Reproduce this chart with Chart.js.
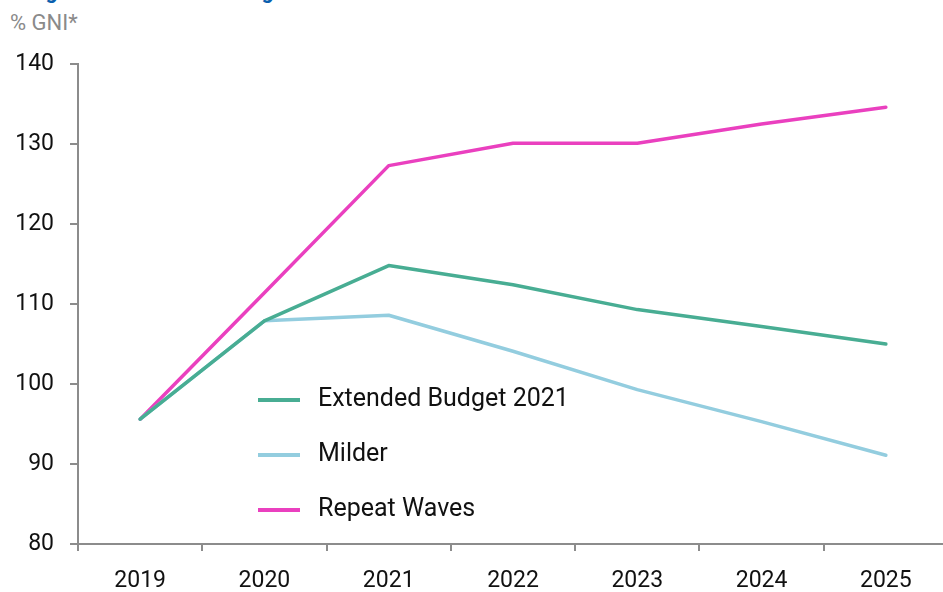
<!DOCTYPE html>
<html>
<head>
<meta charset="utf-8">
<script src="https://cdn.jsdelivr.net/npm/chart.js@4"></script>
<style>
  html, body { margin: 0; padding: 0; overflow: hidden; background: #fff; }
  #title { position: absolute; left: 28px; top: -22px; font: bold 21.5px Roboto, sans-serif; color: #0b5fae; white-space: nowrap; }
  #unit { position: absolute; left: 10px; top: 10px; font: 22px Roboto, sans-serif; color: #8a8a8a; }
  #wrap { position: absolute; left: 0; top: 0; width: 960px; height: 592px; }
</style>
</head>
<body>
<div id="title">Figure 4: Debt Ratio Ranges</div>
<div id="unit">% GNI*</div>
<div id="wrap"><canvas id="myChart"></canvas></div>
<script>
const years = ["2019", "2020", "2021", "2022", "2023", "2024", "2025"];
const extendedBudget = [95.6, 107.9, 114.8, 112.4, 109.3, 107.2, 105.0];
const milder = [95.6, 107.9, 108.6, 104.1, 99.3, 95.3, 91.1];
const repeatWaves = [95.6, 111.4, 127.3, 130.1, 130.1, 132.5, 134.6];
const seriesNames = ["Extended Budget 2021", "Milder", "Repeat Waves"];
const seriesColors = ["#48ad93", "#93cddf", "#ea40bf"];
const yTicks = [80, 90, 100, 110, 120, 130, 140];

const axisGrey = "#8c8c8c";
const font = "Roboto, sans-serif";

// legend sits inside the plot, drawn by hand
const innerLegend = {
    id: "innerLegend",
    afterDraw(chart) {
        const ctx = chart.ctx;
        const area = chart.chartArea;
        ctx.save();
        chart.data.datasets.forEach(function (ds, i) {
            const y = area.top + 336 + i * 55;
            const x = area.left + 180;
            ctx.strokeStyle = ds.borderColor;
            ctx.lineWidth = 4;
            ctx.beginPath();
            ctx.moveTo(x, y);
            ctx.lineTo(x + 42, y);
            ctx.stroke();
            ctx.fillStyle = "#111";
            ctx.font = "25px " + font;
            ctx.textBaseline = "middle";
            ctx.textAlign = "left";
            ctx.fillText(ds.label, x + 60, y);
        });
        ctx.restore();
    },
};

const ctx = document.querySelector("#myChart").getContext("2d");
const myChart = new Chart(ctx, {
    type: "line",
    data: {
        labels: years,
        datasets: [
            { label: seriesNames[0], data: extendedBudget, borderColor: seriesColors[0] },
            { label: seriesNames[1], data: milder, borderColor: seriesColors[1] },
            { label: seriesNames[2], data: repeatWaves, borderColor: seriesColors[2] },
        ],
    },
    options: {
        responsive: true,
        maintainAspectRatio: false,
        animation: false,
        layout: { padding: { top: 64, right: 12, left: 0, bottom: 0 } },
        elements: {
            line: { borderWidth: 3.5, tension: 0, borderCapStyle: "round", borderJoinStyle: "round" },
            point: { radius: 0, hoverRadius: 0 },
        },
        plugins: { legend: { display: false }, tooltip: { enabled: false } },
        scales: {
            x: {
                offset: true,
                grid: { offset: true, drawOnChartArea: false, drawTicks: true, tickLength: 7, color: axisGrey, lineWidth: 2 },
                border: { color: axisGrey, width: 2 },
                ticks: { color: "#111", font: { family: font, size: 23 }, padding: 16, maxRotation: 0 },
                afterFit(scale) { scale.height = 48; },
            },
            y: {
                min: 80,
                max: 140,
                afterBuildTicks(scale) { scale.ticks = yTicks.map(v => ({ value: v })); },
                grid: { drawOnChartArea: false, drawTicks: true, tickLength: 8, color: axisGrey, lineWidth: 2 },
                border: { color: axisGrey, width: 2 },
                ticks: { color: "#111", font: { family: font, size: 23 }, padding: 16 },
                afterFit(scale) { scale.width = 78; },
            },
        },
    },
    plugins: [innerLegend],
});
</script>
</body>
</html>
